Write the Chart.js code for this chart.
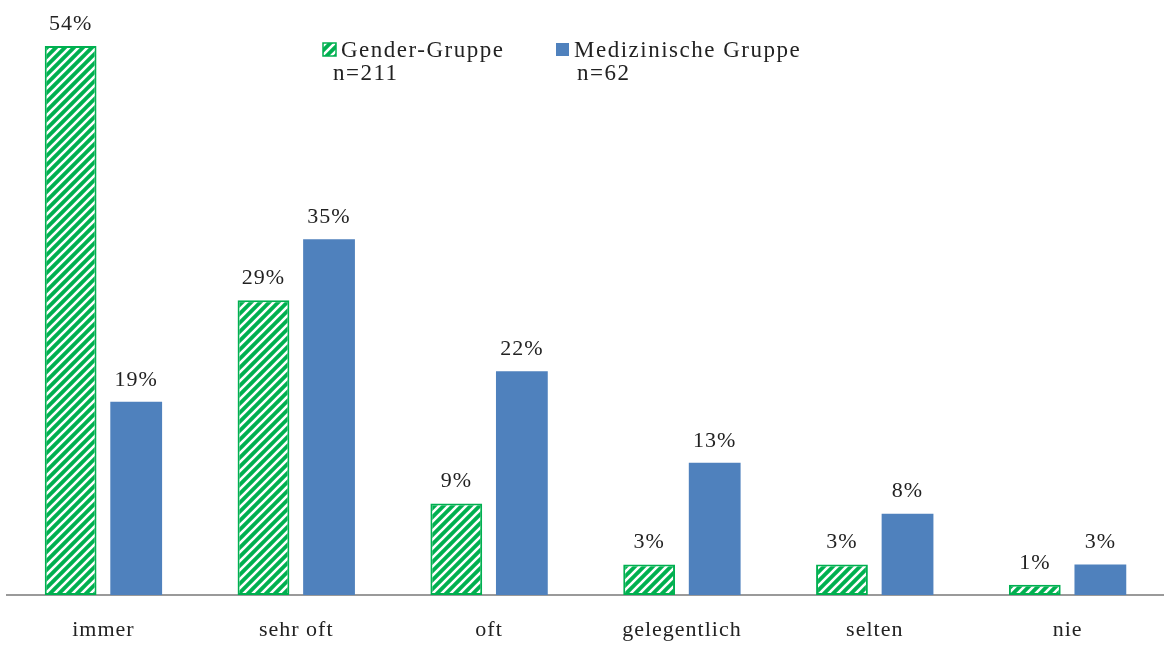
<!DOCTYPE html>
<html>
<head>
<meta charset="utf-8">
<script src="https://cdn.jsdelivr.net/npm/chart.js@4"></script>
<style>
  html, body { margin: 0; padding: 0; background: #fff; }
  #wrap { width: 1164px; height: 645px; }
</style>
</head>
<body>
<div id="wrap"><canvas id="chart"></canvas></div>
<script>
const categories = ["immer", "sehr oft", "oft", "gelegentlich", "selten", "nie"];
const genderValues = [54, 29, 9, 3, 3, 1];
const medValues = [19, 35, 22, 13, 8, 3];
const seriesNames = ["Gender-Gruppe", "Medizinische Gruppe"];
const seriesN = ["n=211", "n=62"];

const GREEN = "#00B050";
const BLUE = "#4F81BD";
const FONT = "'Liberation Serif', 'DejaVu Serif', serif";

function makeStripes() {
  const c = document.createElement("canvas");
  c.width = 9;
  c.height = 9;
  const g = c.getContext("2d");
  g.fillStyle = GREEN;
  g.fillRect(0, 0, 9, 9);
  g.strokeStyle = "#ffffff";
  g.lineWidth = 2.6;
  g.beginPath();
  g.moveTo(-2, 11); g.lineTo(11, -2);
  g.moveTo(-7, 7); g.lineTo(7, -7);
  g.moveTo(2, 16); g.lineTo(16, 2);
  g.stroke();
  return g.createPattern(c, "repeat");
}
const stripes = makeStripes();

// a bit of tracking so the serif looks like the wider original face
const spacing = {
  id: "spacing",
  beforeDraw(chart) {
    chart.ctx.letterSpacing = "1px";
  }
};

// value labels above each bar
const valueLabels = {
  id: "valueLabels",
  afterDatasetsDraw(chart) {
    const ctx = chart.ctx;
    ctx.save();
    ctx.letterSpacing = "1px";
    ctx.font = "22px " + FONT;
    ctx.fillStyle = "#222";
    ctx.textAlign = "center";
    ctx.textBaseline = "bottom";
    chart.data.datasets.forEach((ds, i) => {
      chart.getDatasetMeta(i).data.forEach((bar, j) => {
        ctx.fillText(ds.data[j] + "%", bar.x, bar.y - 11);
      });
    });
    ctx.restore();
  }
};

// two-line legend like the original
const twoLineLegend = {
  id: "twoLineLegend",
  afterDraw(chart) {
    const ctx = chart.ctx;
    const spots = [{ x: 323, nx: 333 }, { x: 556, nx: 577 }];
    ctx.save();
    ctx.letterSpacing = "1.5px";
    ctx.font = "23px " + FONT;
    ctx.textBaseline = "middle";
    chart.data.datasets.forEach((ds, i) => {
      const s = spots[i];
      ctx.fillStyle = i === 0 ? stripes : BLUE;
      ctx.fillRect(s.x, 43, 13, 13);
      if (i === 0) {
        ctx.strokeStyle = GREEN;
        ctx.lineWidth = 1.5;
        ctx.strokeRect(s.x, 43, 13, 13);
      }
      ctx.fillStyle = "#222";
      ctx.fillText(seriesNames[i], s.x + 18, 51);
      ctx.fillText(seriesN[i], s.nx, 74);
    });
    ctx.restore();
  }
};

new Chart(document.getElementById("chart"), {
  type: "bar",
  data: {
    labels: categories,
    datasets: [
      {
        label: seriesNames[0],
        data: genderValues,
        backgroundColor: stripes,
        borderColor: GREEN,
        borderWidth: 2,
        borderSkipped: false,
      },
      {
        label: seriesNames[1],
        data: medValues,
        backgroundColor: BLUE,
        borderWidth: 0,
      },
    ],
  },
  options: {
    responsive: true,
    maintainAspectRatio: false,
    animation: false,
    categoryPercentage: 0.68,
    barPercentage: 0.79,
    layout: {
      padding: { top: 46, left: 7, right: -7, bottom: 0 },
    },
    plugins: {
      legend: { display: false },
      tooltip: { enabled: false },
    },
    scales: {
      x: {
        grid: { display: false, drawTicks: false },
        border: { display: true, color: "#9a9a9a", width: 2 },
        ticks: {
          padding: 22,
          color: "#222",
          font: { family: FONT, size: 22 },
        },
        afterFit(scale) {
          scale.height = 50;
        },
      },
      y: {
        display: false,
        min: 0,
        max: 54,
      },
    },
  },
  plugins: [spacing, valueLabels, twoLineLegend],
});
</script>
</body>
</html>
